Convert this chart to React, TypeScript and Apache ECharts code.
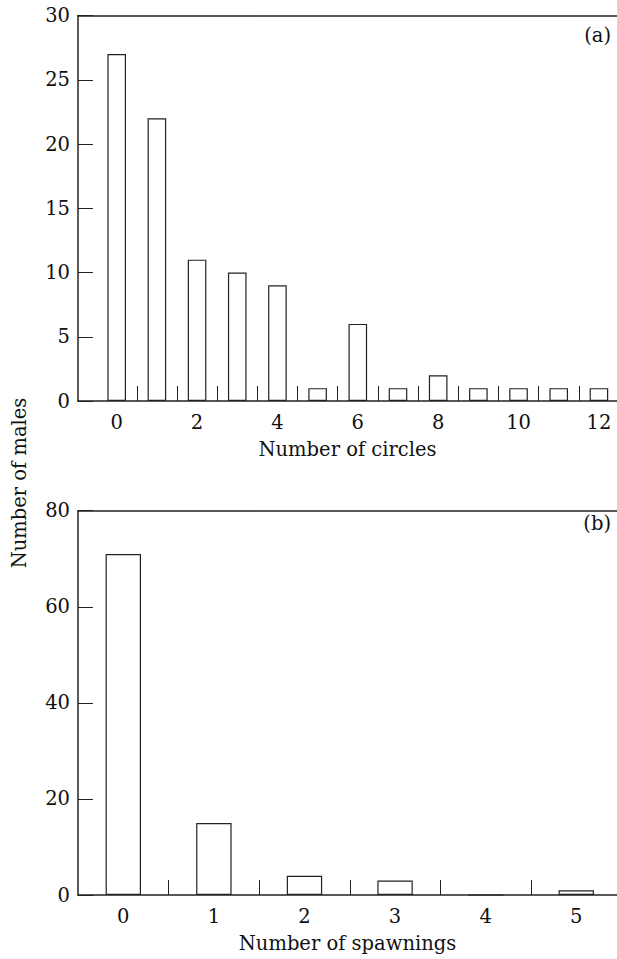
import React, { useEffect, useRef } from "react";
import * as echarts from "echarts";

// Panel (a): number of circles
const circleCategories = [0, 1, 2, 3, 4, 5, 6, 7, 8, 9, 10, 11, 12];
const circleMales = [27, 22, 11, 10, 9, 1, 6, 1, 2, 1, 1, 1, 1];
const circleLabelTicks = [0, 2, 4, 6, 8, 10, 12];
const circleMinorTicks = [0.5, 1.5, 2.5, 3.5, 4.5, 5.5, 6.5, 7.5, 8.5, 9.5, 10.5, 11.5];

// Panel (b): number of spawnings
const spawnCategories = [0, 1, 2, 3, 4, 5];
const spawnMales = [71, 15, 4, 3, 0, 1];
const spawnLabelTicks = [0, 1, 2, 3, 4, 5];
const spawnMinorTicks = [0.5, 1.5, 2.5, 3.5, 4.5];

const FONT = "DejaVu Serif";
const FS = 19.5;
const INK = "#111111";
const LINE = "#222222";

export default function App() {
  const ref = useRef<HTMLDivElement>(null);

  useEffect(() => {
    if (!ref.current) return;
    const chart = echarts.init(ref.current, null, { renderer: "svg" });

    const textStyle = { fontFamily: FONT, fontSize: FS, color: INK };

    const xBase = (min: number, max: number, labels: number[], ticks: number[], name: string, grid: number) => ({
      type: "value",
      gridIndex: grid,
      min,
      max,
      name,
      nameLocation: "middle",
      nameGap: 38,
      nameTextStyle: { ...textStyle },
      axisLine: { show: true, onZero: false, lineStyle: { color: LINE, width: 1.5 } },
      axisTick: { show: true, inside: true, length: 15, customValues: ticks, lineStyle: { color: LINE, width: 1 } },
      axisLabel: { show: true, customValues: labels, margin: 11, ...textStyle },
      splitLine: { show: false },
    });

    const xTop = (min: number, max: number, grid: number) => ({
      type: "value",
      gridIndex: grid,
      position: "top",
      min,
      max,
      axisLine: { show: true, onZero: false, lineStyle: { color: LINE, width: 1.5 } },
      axisTick: { show: false },
      axisLabel: { show: false },
      splitLine: { show: false },
    });

    const yBase = (max: number, interval: number, grid: number) => ({
      type: "value",
      gridIndex: grid,
      min: 0,
      max,
      interval,
      axisLine: { show: true, onZero: false, lineStyle: { color: LINE, width: 1.5 } },
      axisTick: { show: true, inside: true, length: 15, lineStyle: { color: LINE, width: 1 } },
      axisLabel: { show: true, margin: 8, ...textStyle },
      splitLine: { show: false },
    });

    const barStyle = { color: "#ffffff", borderColor: LINE, borderWidth: 1.2 };

    chart.setOption({
      animation: false,
      backgroundColor: "#ffffff",
      grid: [
        { left: 78, right: 0, top: 15.5, height: 385.5 },
        { left: 78, right: 0, top: 510.7, height: 384.3 },
      ],
      xAxis: [
        xBase(-0.963, 12.45, circleLabelTicks, circleMinorTicks, "Number of circles", 0),
        xTop(-0.963, 12.45, 0),
        xBase(-0.5, 5.45, spawnLabelTicks, spawnMinorTicks, "Number of spawnings", 1),
        xTop(-0.5, 5.45, 1),
      ],
      yAxis: [yBase(30, 5, 0), yBase(80, 20, 1)],
      series: [
        {
          type: "bar",
          xAxisIndex: 0,
          yAxisIndex: 0,
          barWidth: 18.6,
          itemStyle: barStyle,
          data: circleCategories.map((c, i) => [c, circleMales[i]]),
        },
        {
          type: "bar",
          xAxisIndex: 2,
          yAxisIndex: 1,
          barWidth: 35.4,
          itemStyle: barStyle,
          data: spawnCategories.map((c, i) => [c, spawnMales[i]]),
        },
      ],
      graphic: [
        {
          type: "text",
          right: 6,
          top: 25,
          style: { text: "(a)", font: `${FS}px "${FONT}"`, fill: INK },
        },
        {
          type: "text",
          right: 6,
          top: 513,
          style: { text: "(b)", font: `${FS}px "${FONT}"`, fill: INK },
        },
        {
          type: "text",
          x: 19,
          y: 483,
          rotation: Math.PI / 2,
          style: {
            text: "Number of males",
            font: `${FS}px "${FONT}"`,
            fill: INK,
            align: "center",
            verticalAlign: "middle",
          },
        },
      ],
    });

    return () => chart.dispose();
  }, []);

  return (
    <div
      ref={ref}
      style={{ position: "absolute", left: 0, top: 0, width: 617, height: 959, background: "#fff" }}
    />
  );
}
